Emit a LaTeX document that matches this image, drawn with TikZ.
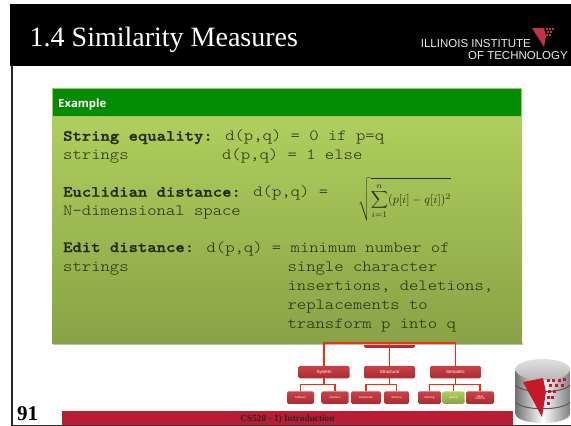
\documentclass[tikz,border=0pt]{standalone}
\usepackage{fontspec}
\usepackage{amsmath}
\setmainfont{Liberation Serif}
\newfontfamily\headsans{Open Sans}
\newfontfamily\logosans{Liberation Sans}
\newfontfamily\codefont[FakeStretch=1.149,BoldFeatures={FakeBold=1.2}]{Latin Modern Mono Light}
\usetikzlibrary{calc}
\definecolor{hdrgreen}{HTML}{048C04}
\definecolor{edgegreen}{HTML}{A5C65C}
\definecolor{bodytop}{HTML}{AFCF5D}
\definecolor{bodybot}{HTML}{88A346}
\definecolor{brick}{HTML}{BC1C33}
\definecolor{boxtop}{HTML}{C8444A}
\definecolor{boxbot}{HTML}{AE2A30}
\definecolor{linkred}{HTML}{F0300A}
\definecolor{codegray}{HTML}{232A18}
\tikzset{
  x=1pt,y=-1pt,
  lvltwo/.style={draw=none,rounded corners=1.5pt,top color=boxtop,bottom color=boxbot,text=white,
    font=\logosans\fontsize{4.5}{5}\selectfont,inner sep=0pt,minimum width=51pt,minimum height=12.5pt},
  lvlthree/.style={draw=none,rounded corners=1.5pt,top color=boxtop,bottom color=boxbot,text=white,
    font=\logosans\fontsize{2.8}{3}\selectfont,inner sep=0pt,minimum height=12.5pt,align=center},
  link/.style={draw=linkred,line width=1.2pt},
  code/.style={anchor=north west,inner sep=0pt,align=left,text=codegray,
    font=\codefont\fontsize{15.5}{19}\selectfont},
}
\begin{document}
\begin{tikzpicture}
\useasboundingbox (0,0) rectangle (571,426);
\fill[white] (0,0) rectangle (571,426);
% slide frame
\fill[black] (10,4) rectangle (571,66);
\fill[black!85] (11,66) rectangle (12.5,426);
\fill[black!80] (11,424.8) rectangle (571,426);
\node[anchor=base west,inner sep=0pt,text=white,font=\fontsize{28}{30}\selectfont] (title) at (29.5,46) {1.4 Similarity Measures};
\node[anchor=base east,inner sep=0pt,text=black!8,font=\logosans\fontsize{11.5}{12}\selectfont] (logoa) at (531,47.5) {ILLINOIS INSTITUTE};
\node[anchor=base east,inner sep=0pt,text=black!8,font=\logosans\fontsize{11.5}{12}\selectfont] (logob) at (568,59.5) {OF TECHNOLOGY};
\fill[brick!90!white] (532,28) -- (544,28) -- (546,36) -- (544,47) -- cycle;
\foreach \px/\py in {546/28,549/28,552/28,547/31,550/31,546/34,549/34}
  \fill[brick!90!white] (\px,\py) rectangle ++(1.6,1.6);
% footer
\fill[brick] (62,411) rectangle (513,425);
\node[inner sep=0pt,font=\bfseries\fontsize{9.3}{10}\selectfont,text=black!85] (foot) at (287.5,419) {CS520 - 1) Introduction};
\node[anchor=base west,inner sep=0pt,font=\bfseries\fontsize{21}{22}\selectfont] (num) at (17,420) {91};
% tree
\node[lvltwo] (hetero) at (389.5,341.5) {Heterogeneity};
\node[lvltwo] (system) at (324,372) {System};
\node[lvltwo] (structural) at (389.5,372) {Structural};
\node[lvltwo] (semantic) at (455.5,372) {Semantic};
\node[lvlthree,minimum width=27pt] (software) at (300.5,397.5) {Software};
\node[lvlthree,minimum width=27pt] (interface) at (335,397.5) {Interface};
\node[lvlthree,minimum width=30pt] (datamodel) at (366,397.5) {Datamodel};
\node[lvlthree,minimum width=25pt] (schema) at (396.5,397.5) {Schema};
\node[lvlthree,minimum width=23pt] (naming) at (429.5,397.5) {Naming};
\node[lvlthree,minimum width=22pt,top color=bodytop,bottom color=bodybot] (identity) at (453.5,397.5) {Identity};
\node[lvlthree,minimum width=28pt] (value) at (480,397.5) {Value\\[-1pt]conflicts};
% example box
\fill[black!25] (53,343) rectangle (523,344.5);
\shade[top color=bodytop,bottom color=bodybot] (52,116) rectangle (522,343);
\fill[hdrgreen] (52.5,89) rectangle (521.5,116);
\draw[edgegreen,line width=1pt] (52.5,88.5) rectangle (521.5,116);
\node[anchor=base west,inner sep=0pt,text=white,font=\headsans\bfseries\fontsize{11.3}{12}\selectfont] (exhead) at (58,107.5) {Example};
\node[code] (stringeq) at (63,129.7) {\textbf{String equality:} d(p,q) = 0 if p=q\\strings~~~~~~~~~~d(p,q) = 1 else};
\node[code] (euclid) at (63,185.7) {\textbf{Euclidian distance:} d(p,q) =\\N-dimensional space};
\node[code] (edit) at (63,241) {\textbf{Edit distance:} d(p,q) = minimum number of\\strings~~~~~~~~~~~~~~~~~single character\\~~~~~~~~~~~~~~~~~~~~~~~~insertions, deletions,\\~~~~~~~~~~~~~~~~~~~~~~~~replacements to\\~~~~~~~~~~~~~~~~~~~~~~~~transform p into q};
\node[anchor=center,inner sep=0pt,text=codegray,scale=1.2] (formula) at (404.5,199.5) {$\displaystyle\sqrt{\sum_{i=1}^{n}(p[i]-q[i])^2}$};
% connectors
\coordinate (bus) at (389.5,343);
\draw[link] (bus) -| (system.north);
\draw[link] (bus) -| (semantic.north);
\draw[link] (bus) -- (structural.north);
\foreach \up/\kids in {system/{software,interface},structural/{datamodel,schema},semantic/{naming,identity,value}}{
  \coordinate (fork) at ($(\up.south)+(0,6)$);
  \draw[link] (\up.south) -- (fork);
  \foreach \k in \kids { \draw[link] (fork) -| (\k.north); }
}
% database
\shade[left color=black!55,right color=black!50,middle color=white]
  (515.5,369) -- (515.5,414) .. controls (517,426) and (568,426) .. (570,414) -- (570,369) -- cycle;
\shade[top color=black!12,bottom color=black!28] (542.7,369.5) ellipse [x radius=27.3,y radius=10.5];
\draw[black!65,line width=1pt] (515.5,385) .. controls (522,394) and (563,394) .. (570,385);
\draw[black!65,line width=1pt] (515.5,402) .. controls (522,411) and (563,411) .. (570,402);
\fill[brick!85!red] (523,382) -- (543,378) -- (546,392) -- (542,417) -- cycle;
\foreach \px/\py in {547/379,552/379,558/379,563/378,549/384,555/384,561/384,548/390,553/390,547/396,551/396,547/402}
  \fill[brick!85!red] (\px,\py) rectangle ++(3,2.6);
\end{tikzpicture}
\end{document}
